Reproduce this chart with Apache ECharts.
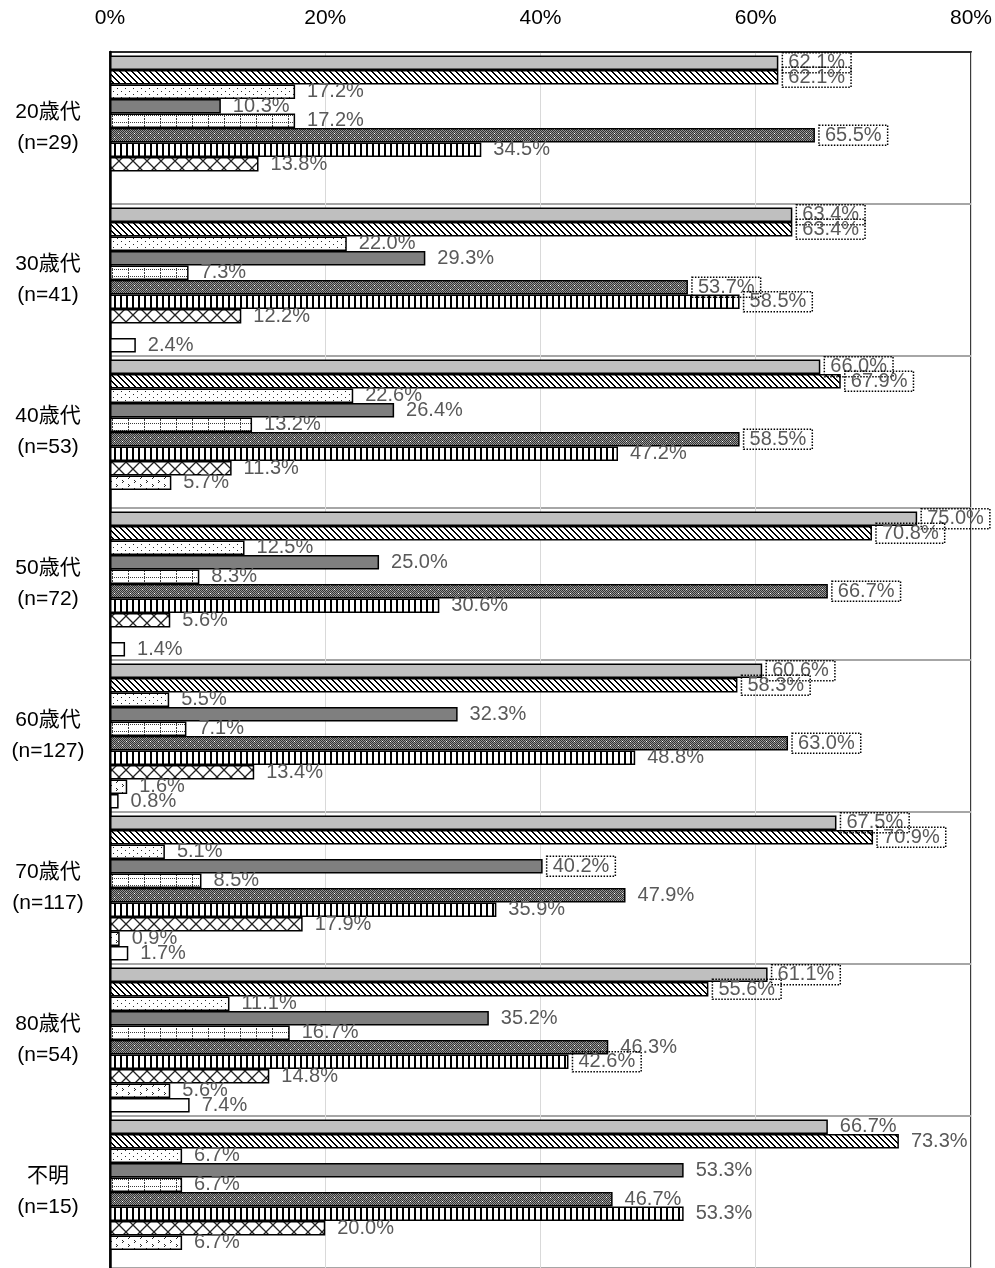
<!DOCTYPE html>
<html>
<head>
<meta charset="utf-8">
<script src="https://cdn.jsdelivr.net/npm/echarts@6/dist/echarts.min.js"></script>
<style>
html,body{margin:0;padding:0;background:#fff;}
#chart{width:995px;height:1268px;}
</style>
</head>
<body>
<div id="chart"></div>
<script>
// ---- data ----
const categories = ['20歳代', '30歳代', '40歳代', '50歳代', '60歳代', '70歳代', '80歳代', '不明'];
const sampleSizes = [29, 41, 53, 72, 127, 117, 54, 15];
const xTicks = [0, 20, 40, 60, 80];
const s1 = [62.1, 63.4, 66.0, 75.0, 60.6, 67.5, 61.1, 66.7];
const s2 = [62.1, 63.4, 67.9, 70.8, 58.3, 70.9, 55.6, 73.3];
const s3 = [17.2, 22.0, 22.6, 12.5, 5.5, 5.1, 11.1, 6.7];
const s4 = [10.3, 29.3, 26.4, 25.0, 32.3, 40.2, 35.2, 53.3];
const s5 = [17.2, 7.3, 13.2, 8.3, 7.1, 8.5, 16.7, 6.7];
const s6 = [65.5, 53.7, 58.5, 66.7, 63.0, 47.9, 46.3, 46.7];
const s7 = [34.5, 58.5, 47.2, 30.6, 48.8, 35.9, 42.6, 53.3];
const s8 = [13.8, 12.2, 11.3, 5.6, 13.4, 17.9, 14.8, 20.0];
const s9 = [0, 0, 5.7, 0, 1.6, 0.9, 5.6, 6.7];
const s10 = [0, 2.4, 0, 1.4, 0.8, 1.7, 7.4, 0];
const seriesValues = [s1, s2, s3, s4, s5, s6, s7, s8, s9, s10];

// labels drawn with a dotted box: [categoryIndex, seriesIndex]
const boxedLabels = [
  [0,0],[0,1],[0,5],
  [1,0],[1,1],[1,5],[1,6],
  [2,0],[2,1],[2,5],
  [3,0],[3,1],[3,5],
  [4,0],[4,1],[4,5],
  [5,0],[5,1],[5,3],
  [6,0],[6,1],[6,6]
];

// ---- patterns ----
function pixelPattern(w, h, fn) {
  const c = document.createElement('canvas');
  c.width = w; c.height = h;
  const ctx = c.getContext('2d');
  const img = ctx.createImageData(w, h);
  for (let y = 0; y < h; y++) for (let x = 0; x < w; x++) {
    const v = fn(x, y);
    const i = (y * w + x) * 4;
    img.data[i] = v; img.data[i+1] = v; img.data[i+2] = v; img.data[i+3] = 255;
  }
  ctx.putImageData(img, 0, 0);
  return { image: c, repeat: 'repeat' };
}
function drawPattern(w, h, draw) {
  const c = document.createElement('canvas');
  c.width = w; c.height = h;
  const ctx = c.getContext('2d');
  ctx.fillStyle = '#fff'; ctx.fillRect(0, 0, w, h);
  draw(ctx);
  return { image: c, repeat: 'repeat' };
}
const fills = [
  '#bfbfbf',
  pixelPattern(6, 6, (x, y) => (((x - y) % 6 + 6) % 6 < 2 ? 0 : 255)),
  pixelPattern(8, 6, (x, y) => ((x === 1 && y === 1) || (x === 5 && y === 4)) ? 40 : 255),
  '#7f7f7f',
  pixelPattern(16, 7, (x, y) => ((x === 0 && y % 2 === 0) || (y === 3 && x % 2 === 0)) ? 60 : 255),
  pixelPattern(8, 8, (x, y) => {
    if ((x === 2 && y === 1) || (x === 6 && y === 5)) return 255;
    return ((x + y) % 2 === 0) ? 50 : 150;
  }),
  pixelPattern(6, 1, (x, y) => (x < 2 ? 0 : 255)),
  drawPattern(14, 14, ctx => {
    ctx.strokeStyle = '#222'; ctx.lineWidth = 1.3;
    ctx.beginPath();
    ctx.moveTo(0, 0); ctx.lineTo(14, 14);
    ctx.moveTo(14, 0); ctx.lineTo(0, 14);
    ctx.stroke();
  }),
  pixelPattern(12, 8, (x, y) => {
    const m = (px, py) => (x === px && y === py) || (x === px + 1 && y === py + 1) || (x === px && y === py + 2);
    return (m(2, 0) || m(8, 4)) ? 40 : 255;
  }),
  '#ffffff'
];

const labelFont = 'Liberation Sans, Noto Sans CJK JP, sans-serif';
const series = seriesValues.map((vals, si) => ({
  type: 'bar',
  name: 'S' + (si + 1),
  barGap: '0%',
  barCategoryGap: '4.6%',
  itemStyle: { color: fills[si], borderColor: '#000', borderWidth: 1.5 },
  label: {
    show: true,
    position: 'right',
    distance: 12,
    color: '#595959',
    fontSize: 20,
    fontFamily: labelFont,
    formatter: p => (typeof p.value === 'number' && p.value > 0) ? p.value.toFixed(1) + '%' : ''
  },
  data: vals.map((v, ci) => {
    if (!v) return '-';
    const boxed = boxedLabels.some(b => b[0] === ci && b[1] === si);
    if (!boxed) return v;
    return {
      value: v,
      label: {
        distance: 4,
        borderType: 'dotted',
        borderColor: '#000',
        borderWidth: 1.5,
        padding: [0, 6, 0, 6]
      }
    };
  })
}));

const chart = echarts.init(document.getElementById('chart'), null, { renderer: 'canvas' });
chart.setOption({
  animation: false,
  backgroundColor: '#fff',
  grid: {
    left: 110, right: 22, top: 52, height: 1216,
    show: true, borderColor: '#000', borderWidth: 1.5
  },
  xAxis: {
    type: 'value',
    position: 'top',
    min: xTicks[0], max: xTicks[xTicks.length - 1], interval: 20,
    axisLine: { show: true, lineStyle: { color: '#000', width: 1.5 } },
    axisTick: { show: false },
    splitLine: { show: true, lineStyle: { color: '#d9d9d9', width: 1 } },
    axisLabel: {
      formatter: '{value}%', color: '#000', fontSize: 21, margin: 23,
      fontFamily: labelFont
    }
  },
  yAxis: {
    type: 'category',
    inverse: true,
    data: categories.map((c, i) => c + '\n(n=' + sampleSizes[i] + ')'),
    axisLine: { show: true, lineStyle: { color: '#000', width: 2.5 } },
    axisTick: { show: false },
    splitLine: { show: true, lineStyle: { color: '#a6a6a6', width: 2 } },
    axisLabel: {
      color: '#000', fontSize: 21, lineHeight: 31, align: 'center', margin: 62,
      fontFamily: 'Liberation Sans, Noto Sans CJK JP, sans-serif'
    }
  },
  series: series
});
</script>
</body>
</html>
